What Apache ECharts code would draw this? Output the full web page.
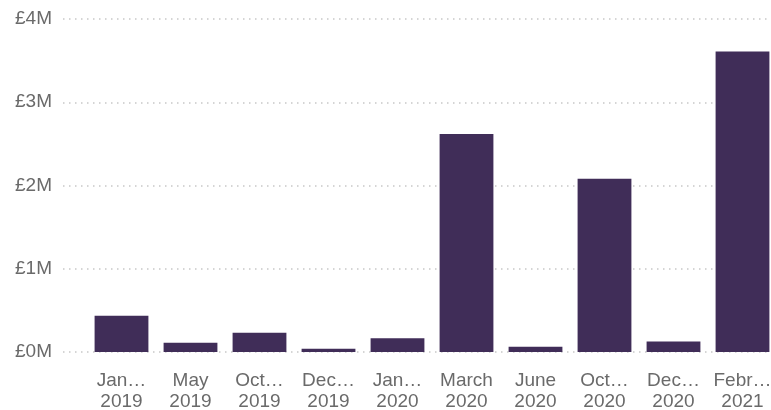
<!DOCTYPE html>
<html>
<head>
<meta charset="utf-8">
<script src="https://cdn.jsdelivr.net/npm/echarts@6/dist/echarts.min.js"></script>
<style>html,body{margin:0;padding:0;background:#fff}#c{width:771px;height:410px}</style>
</head>
<body>
<div id="c"></div>
<script>
var categories = ['Jan…\n2019','May\n2019','Oct…\n2019','Dec…\n2019','Jan…\n2020','March\n2020','June\n2020','Oct…\n2020','Dec…\n2020','Febr…\n2021'];
var values = [0.435, 0.11, 0.23, 0.04, 0.165, 2.62, 0.062, 2.08, 0.125, 3.61];
var yTicks = [0, 1, 2, 3, 4];

var chart = echarts.init(document.getElementById('c'), null, {renderer:'canvas'});
var font = '"Liberation Sans", Arial, sans-serif';
chart.setOption({
  animation: false,
  grid: [
    {left: 63, width: 708, top: 19, height: 333, outerBoundsMode: 'none', containLabel: false},
    {left: 87, width: 690, top: 19, height: 333, outerBoundsMode: 'none', containLabel: false}
  ],
  xAxis: [
    {gridIndex: 0, type: 'category', data: categories, show: false},
    {gridIndex: 1, type: 'category', data: categories,
     axisLine: {show: false}, axisTick: {show: false},
     axisLabel: {color: '#6a6a6a', fontSize: 19, fontFamily: font, lineHeight: 21, margin: 18, interval: 0}}
  ],
  yAxis: [
    {gridIndex: 0, type: 'value', min: 0, max: 4, interval: 1,
     axisLine: {show: false}, axisTick: {show: false},
     axisLabel: {color: '#6a6a6a', fontSize: 19, fontFamily: font, margin: 11,
       formatter: function(v){ return yTicks.indexOf(v) >= 0 ? '£' + v + 'M' : ''; }},
     splitLine: {lineStyle: {color: '#c8c8c8', type: [1.5, 4.5], width: 1.5}}},
    {gridIndex: 1, type: 'value', min: 0, max: 4, interval: 1, show: false, splitLine: {show: false}}
  ],
  series: [{
    type: 'bar', xAxisIndex: 1, yAxisIndex: 1, data: values,
    barCategoryGap: '22%',
    itemStyle: {color: '#402D58'}
  }]
});
</script>
</body>
</html>
